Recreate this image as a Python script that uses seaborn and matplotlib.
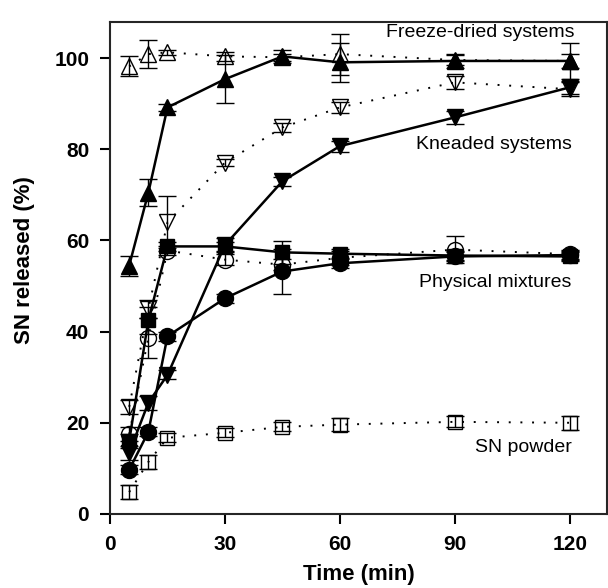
import numpy as np
import pandas as pd
import matplotlib
matplotlib.use("Agg")
import matplotlib.pyplot as plt
import seaborn as sns

# sampling times (min)
time = [5, 10, 15, 30, 45, 60, 90, 120]

# freeze-dried systems
fd_open = [98.2, 100.9, 101.3, 100.4, 100.2, 100.9, 99.6, 99.4]
fd_open_err = [2.2, 3.0, 0.5, 1.0, 0.8, 4.5, 1.0, 1.5]
fd_filled = [54.5, 70.5, 89.2, 95.4, 100.4, 99.1, 99.4, 99.4]
fd_filled_err = [2.2, 3.0, 0.8, 5.3, 1.5, 4.3, 1.5, 4.0]

# kneaded systems
kn_open = [23.5, 45.0, 64.0, 77.1, 84.8, 89.2, 94.7, 93.2]
kn_open_err = [1.5, 2.0, 5.7, 0.8, 1.0, 1.2, 1.5, 1.5]
kn_filled = [13.4, 24.4, 30.5, 59.0, 73.0, 80.7, 87.0, 93.6]
kn_filled_err = [1.5, 1.5, 1.0, 1.5, 1.0, 1.2, 1.5, 1.5]

# physical mixtures
pm_square = [16.0, 42.5, 58.7, 58.7, 57.4, 57.1, 56.7, 56.5]
pm_square_err = [1.5, 3.0, 1.0, 1.0, 2.5, 1.0, 1.0, 1.0]
pm_open = [17.5, 38.7, 57.8, 55.8, 54.7, 56.2, 58.0, 57.0]
pm_open_err = [1.5, 4.4, 1.0, 1.2, 1.2, 1.5, 3.0, 1.0]
pm_circle = [9.7, 18.0, 39.0, 47.3, 53.2, 55.0, 56.5, 56.8]
pm_circle_err = [1.0, 1.0, 1.0, 1.0, 5.0, 1.0, 1.0, 1.0]

# SN powder
sn = [4.8, 11.4, 16.7, 17.8, 19.1, 19.6, 20.2, 20.0]
sn_err = [1.5, 1.5, 1.0, 1.0, 1.0, 1.5, 1.2, 1.5]

series = [
    (fd_open, fd_open_err, "^", False, "dotted"),
    (kn_open, kn_open_err, "v", False, "dotted"),
    (pm_open, pm_open_err, "o", False, "dotted"),
    (sn, sn_err, "s", False, "dotted"),
    (fd_filled, fd_filled_err, "^", True, "solid"),
    (kn_filled, kn_filled_err, "v", True, "solid"),
    (pm_square, pm_square_err, "s", True, "solid"),
    (pm_circle, pm_circle_err, "o", True, "solid"),
]

sns.set_style("ticks")
plt.rcParams["font.family"] = ["Liberation Sans", "DejaVu Sans"]
plt.rcParams["text.color"] = "black"
plt.rcParams["axes.labelcolor"] = "black"
plt.rcParams["xtick.color"] = "black"
plt.rcParams["ytick.color"] = "black"

fig = plt.figure(figsize=(6.08, 5.88), dpi=100)
ax = fig.add_axes([0.181, 0.126, 0.817, 0.837])

for vals, err, mk, filled, ls in series:
    df = pd.DataFrame({"t": time, "y": vals})
    ms = 10.5 if mk == "s" else 12
    if mk == "o":
        ms = 11.5
    kw = dict(marker=mk, markersize=ms, markeredgecolor="black",
              markerfacecolor="black" if filled else "none",
              markeredgewidth=1.0, color="black")
    if ls == "dotted":
        kw.update(linestyle=(0, (1, 5)), linewidth=1.4)
    else:
        kw.update(linestyle="-", linewidth=1.8)
    sns.lineplot(data=df, x="t", y="y", ax=ax, **kw)
    ax.errorbar(time, vals, yerr=err, fmt="none", ecolor="black",
                elinewidth=1.0, capsize=6.5, capthick=1.0, zorder=5)

ax.text(121.3, 105.7, "Freeze-dried systems", ha="right", va="center", fontsize=14)
ax.text(120.5, 81, "Kneaded systems", ha="right", va="center", fontsize=14)
ax.text(120.5, 50.8, "Physical mixtures", ha="right", va="center", fontsize=14)
ax.text(120.5, 14.5, "SN powder", ha="right", va="center", fontsize=14)

ax.set_xlim(0, 129.7)
ax.set_ylim(0, 108)
ax.set_xticks([0, 30, 60, 90, 120])
ax.set_yticks([0, 20, 40, 60, 80, 100])
ax.tick_params(direction="out", length=7, width=1.5, labelsize=15, pad=8)
for lab in ax.get_xticklabels() + ax.get_yticklabels():
    lab.set_fontweight("bold")
for sp in ax.spines.values():
    sp.set_linewidth(1.5)
    sp.set_visible(True)
ax.set_xlabel("Time (min)", fontsize=16, fontweight="bold", labelpad=7.5)
ax.set_ylabel("SN released (%)", fontsize=16, fontweight="bold")
ax.yaxis.set_label_coords(-0.151, 0.515)

fig.savefig("out.png", dpi=100)
